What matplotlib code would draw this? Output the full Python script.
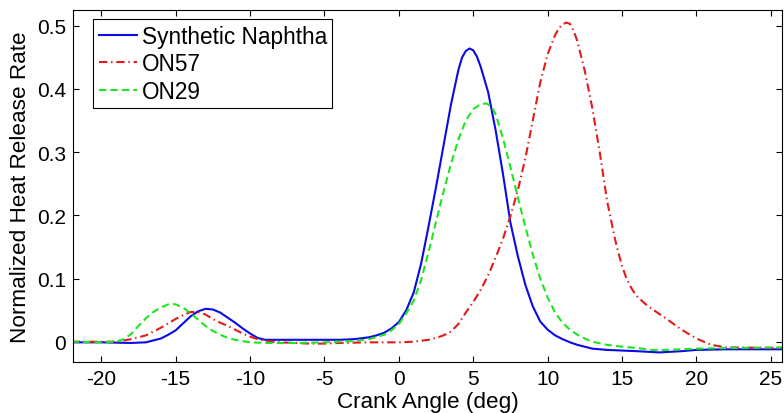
import matplotlib
matplotlib.use("Agg")
import matplotlib.pyplot as plt

# ---- data ----
naphtha_x = [-22, -20, -18, -17, -16.5, -16, -15.5, -15, -14.5, -14, -13.5, -13, -12.5, -12,
             -11.5, -11, -10.5, -10, -9.5, -9, -8, -6, -4, -3, -2, -1.5, -1, -0.5, 0, 0.5, 1,
             1.5, 2, 2.5, 3, 3.5, 4, 4.25, 4.5, 4.75, 5, 5.25, 5.5, 6, 6.5, 7, 7.5, 8, 8.5, 9,
             9.5, 10, 10.5, 11, 11.5, 12, 13, 14, 15, 16, 17.5, 19, 20, 22, 25.8]
naphtha_y = [-0.001, -0.001, -0.002, -0.001, 0.002, 0.005, 0.011, 0.018, 0.029, 0.040, 0.048,
             0.052, 0.051, 0.046, 0.038, 0.030, 0.021, 0.013, 0.006, 0.003, 0.003, 0.003,
             0.003, 0.004, 0.007, 0.010, 0.014, 0.021, 0.031, 0.050, 0.078, 0.124, 0.183,
             0.245, 0.310, 0.375, 0.430, 0.450, 0.460, 0.464, 0.461, 0.451, 0.435, 0.395,
             0.335, 0.265, 0.188, 0.135, 0.090, 0.056, 0.032, 0.019, 0.010, 0.004, -0.001,
             -0.005, -0.011, -0.013, -0.014, -0.015, -0.017, -0.015, -0.013, -0.012, -0.012]

on57_x = [-22, -19, -18.5, -18, -17.5, -17, -16.5, -16, -15.5, -15, -14.5, -14, -13.5, -13,
          -12.5, -12, -11.5, -11, -10.5, -10, -9.5, -9, -8, -6, -5, -4, -2, 0, 1, 2, 2.5, 3,
          3.5, 4, 4.5, 5, 5.5, 6, 6.5, 7, 7.5, 8, 8.5, 9, 9.5, 10, 10.5, 10.75, 11, 11.25,
          11.5, 11.75, 12, 12.5, 13, 13.5, 14, 14.5, 14.75, 15, 15.25, 15.5, 15.75, 16, 16.5,
          17, 18, 19, 20, 21, 22, 25.8]
on57_y = [0.0, 0.0, 0.002, 0.004, 0.007, 0.010, 0.016, 0.022, 0.029, 0.036, 0.042, 0.047,
          0.047, 0.043, 0.036, 0.030, 0.025, 0.019, 0.013, 0.008, 0.004, 0.001, -0.001,
          -0.003, -0.003, -0.002, -0.001, -0.001, 0.0, 0.003, 0.006, 0.010, 0.016, 0.028,
          0.046, 0.063, 0.082, 0.105, 0.133, 0.163, 0.199, 0.240, 0.290, 0.350, 0.410, 0.455,
          0.485, 0.496, 0.502, 0.505, 0.503, 0.492, 0.475, 0.428, 0.370, 0.300, 0.222, 0.165,
          0.141, 0.120, 0.103, 0.090, 0.080, 0.072, 0.061, 0.052, 0.036, 0.019, 0.005, -0.005,
          -0.009, -0.010]

on29_x = [-22, -20, -19, -18.5, -18, -17.5, -17, -16.5, -16, -15.5, -15.2, -15, -14.5, -14,
          -13.5, -13, -12.5, -12, -11.5, -11, -10.5, -10, -9, -7, -5, -3, -2, -1, -0.5, 0,
          0.5, 1, 1.5, 2, 2.5, 3, 3.5, 4, 4.5, 5, 5.5, 5.9, 6.25, 6.5, 7, 7.5, 8, 8.5, 9,
          9.5, 10, 10.5, 11, 11.5, 12, 12.5, 13, 14, 15, 16, 17, 18, 20, 22, 25.8]
on29_y = [0.0, -0.001, 0.0, 0.004, 0.012, 0.025, 0.037, 0.047, 0.054, 0.059, 0.060, 0.059,
          0.054, 0.045, 0.035, 0.025, 0.017, 0.011, 0.006, 0.003, 0.001, -0.001, -0.002,
          -0.002, -0.001, 0.001, 0.004, 0.011, 0.018, 0.028, 0.045, 0.065, 0.098, 0.142,
          0.190, 0.237, 0.281, 0.320, 0.350, 0.368, 0.376, 0.377, 0.371, 0.360, 0.322, 0.276,
          0.228, 0.182, 0.138, 0.100, 0.070, 0.046, 0.030, 0.019, 0.011, 0.005, 0.0, -0.005,
          -0.008, -0.010, -0.013, -0.013, -0.011, -0.010, -0.009]

series_labels = ["Synthetic Naphtha", "ON57", "ON29"]
x_ticks = [-20, -15, -10, -5, 0, 5, 10, 15, 20, 25]
y_ticks = [0, 0.1, 0.2, 0.3, 0.4, 0.5]
y_tick_labels = ["0", "0.1", "0.2", "0.3", "0.4", "0.5"]

plt.rcParams['font.family'] = ['Liberation Sans', 'DejaVu Sans']

fig = plt.figure(figsize=(7.84, 4.14), dpi=100)
ax = fig.add_axes([73 / 784, 1 - 363.3 / 414, (782 - 73) / 784, (363.3 - 11.3) / 414])

ax.plot(naphtha_x, naphtha_y, color='#0a0ae6', lw=1.5, ls='-', label=series_labels[0])
ax.plot(on57_x, on57_y, color='#e31a1a', lw=1.5, dashes=(4, 1.8, 0.7, 1.8), label=series_labels[1])
ax.plot(on29_x, on29_y, color='#1ee61e', lw=1.5, dashes=(3.5, 2.0), label=series_labels[2])

ax.set_xlim(-21.9, 25.75)
ax.set_ylim(-0.0326, 0.5244)
ax.set_xticks(x_ticks)
ax.set_xticklabels([str(t) for t in x_ticks])
ax.set_yticks(y_ticks)
ax.set_yticklabels(y_tick_labels)
ax.tick_params(direction='in', top=True, right=True, length=4, width=0.8,
               labelsize=15, pad=5)
for s in ax.spines.values():
    s.set_linewidth(0.8)

ax.set_xlabel("Crank Angle (deg)", fontsize=16.2, labelpad=2)
ax.set_ylabel("Normalized Heat Release Rate", fontsize=16.2, labelpad=4)

leg = ax.legend(loc='upper left', bbox_to_anchor=(0.028, 0.975), borderaxespad=0,
                fontsize=16.3, fancybox=False, framealpha=1, edgecolor='black',
                handlelength=1.7, handletextpad=0.2, labelspacing=0.2,
                borderpad=0.25)
leg.get_frame().set_linewidth(0.8)

fig.savefig("out.png", dpi=100)
